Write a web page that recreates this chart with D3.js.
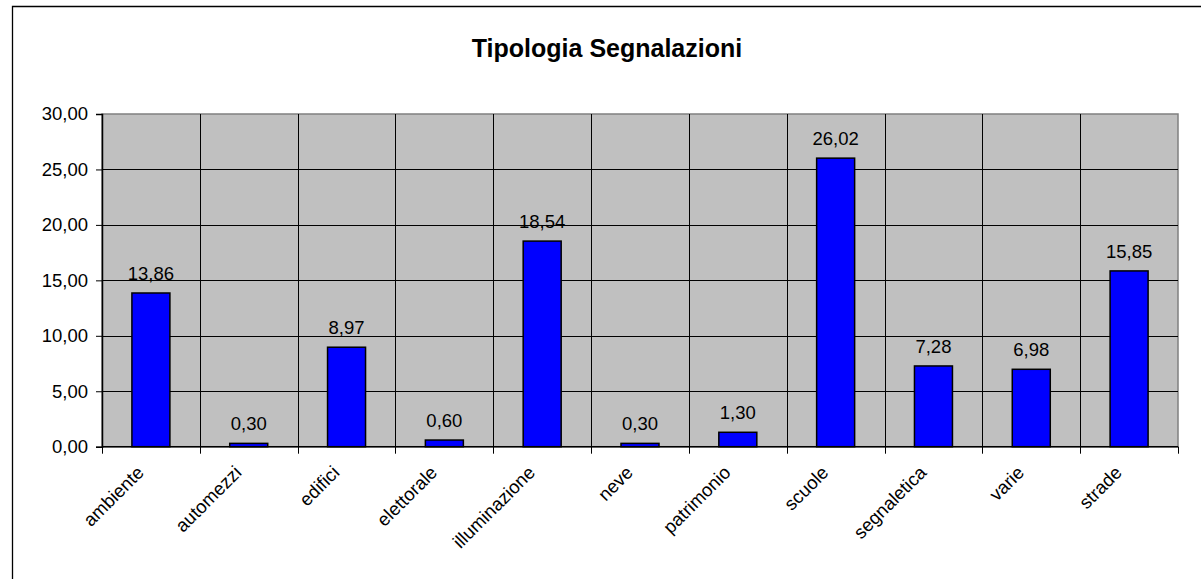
<!DOCTYPE html>
<html>
<head>
<meta charset="utf-8">
<script src="https://cdn.jsdelivr.net/npm/d3@7"></script>
<style>
  body { margin: 0; background: #fff; }
  text { font-family: "Liberation Sans", Arial, sans-serif; fill: #000; }
</style>
</head>
<body>
<svg width="1201" height="579"></svg>
<script>
const categories = ["ambiente", "automezzi", "edifici", "elettorale", "illuminazione",
  "neve", "patrimonio", "scuole", "segnaletica", "varie", "strade"];
const values = [13.86, 0.30, 8.97, 0.60, 18.54, 0.30, 1.30, 26.02, 7.28, 6.98, 15.85];
const yTicks = [0, 5, 10, 15, 20, 25, 30];

const svg = d3.select("svg");
const fmt = (v) => v.toFixed(2).replace(".", ",");
const fs = 18.5;

// cornice esterna
svg.append("path")
  .attr("d", "M12.5,579 V6.5 H1201")
  .attr("fill", "none")
  .attr("stroke", "#000")
  .attr("stroke-width", 1.3);

const pLeft = 102, pRight = 1178, pTop = 114, pBottom = 446.7;

const x = d3.scaleBand().domain(categories).range([pLeft, pRight]);
const y = d3.scaleLinear().domain([0, 30]).range([pBottom, pTop]);

// area del grafico
svg.append("rect")
  .attr("x", pLeft).attr("y", pTop)
  .attr("width", pRight - pLeft).attr("height", pBottom - pTop)
  .attr("fill", "#c0c0c0")
  .attr("stroke", "#808080")
  .attr("stroke-width", 1.5);

// griglia orizzontale
svg.append("g").selectAll("line")
  .data(yTicks.filter((d) => d > 0 && d < 30))
  .join("line")
  .attr("x1", pLeft).attr("x2", pRight)
  .attr("y1", (d) => Math.round(y(d)) + 0.5).attr("y2", (d) => Math.round(y(d)) + 0.5)
  .attr("stroke", "#000");

// griglia verticale
svg.append("g").selectAll("line")
  .data(categories.slice(1))
  .join("line")
  .attr("x1", (d) => Math.round(x(d)) + 0.5).attr("x2", (d) => Math.round(x(d)) + 0.5)
  .attr("y1", pTop).attr("y2", pBottom)
  .attr("stroke", "#000");

// barre
const bw = 38;
svg.append("g").selectAll("rect")
  .data(values)
  .join("rect")
  .attr("x", (d, i) => x(categories[i]) + x.bandwidth() / 2 - bw / 2)
  .attr("y", (d) => y(d))
  .attr("width", bw)
  .attr("height", (d) => pBottom - y(d))
  .attr("fill", "#0000ff")
  .attr("stroke", "#000")
  .attr("stroke-width", 1.5);

// etichette dei valori
svg.append("g").selectAll("text")
  .data(values)
  .join("text")
  .attr("x", (d, i) => x(categories[i]) + x.bandwidth() / 2)
  .attr("y", (d) => y(d) - 13)
  .attr("text-anchor", "middle")
  .attr("font-size", fs)
  .text(fmt);

// asse y
const yAxis = svg.append("g")
  .attr("transform", `translate(${pLeft},0)`)
  .call(d3.axisLeft(y).tickValues(yTicks).tickSize(6).tickPadding(8).tickFormat(fmt));
yAxis.select(".domain").attr("stroke", "#000").attr("stroke-width", 1.5);
yAxis.selectAll(".tick line").attr("stroke", "#000");
yAxis.selectAll("text").attr("font-size", fs).attr("font-family", "Liberation Sans, Arial, sans-serif");

// asse x
const xAxis = svg.append("g").attr("transform", `translate(0,${pBottom})`);
xAxis.append("line")
  .attr("x1", pLeft).attr("x2", pRight)
  .attr("stroke", "#000").attr("stroke-width", 1.5);
xAxis.selectAll("line.tk")
  .data(categories.map((c) => x(c)).concat([pRight]))
  .join("line")
  .attr("class", "tk")
  .attr("x1", (d) => Math.round(d) + 0.5).attr("x2", (d) => Math.round(d) + 0.5)
  .attr("y1", 0).attr("y2", 7)
  .attr("stroke", "#000");
xAxis.selectAll("text")
  .data(categories)
  .join("text")
  .attr("text-anchor", "end")
  .attr("font-size", fs)
  .attr("transform", (d) => `translate(${x(d) + x.bandwidth() / 2 - 6},${27}) rotate(-45)`)
  .text((d) => d);

// titolo
svg.append("text")
  .attr("x", 607)
  .attr("y", 57)
  .attr("text-anchor", "middle")
  .attr("font-size", 25)
  .attr("font-weight", "bold")
  .text("Tipologia Segnalazioni");
</script>
</body>
</html>
